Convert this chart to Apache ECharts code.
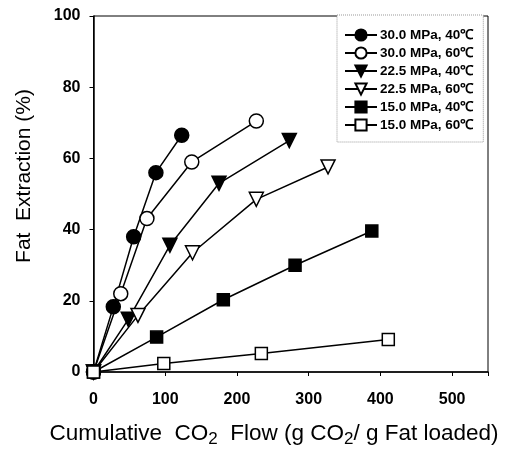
<!DOCTYPE html>
<html>
<head>
<meta charset="utf-8">
<script src="https://cdn.jsdelivr.net/npm/echarts@6/dist/echarts.min.js"></script>
<style>
	html, body { margin: 0; padding: 0; background: #fff; }
	#chart { width: 508px; height: 450px; }
</style>
</head>
<body>
<div id="chart"></div>
<script>
// series names as in the legend
var seriesNames = ['30.0 MPa, 40℃', '30.0 MPa, 60℃', '22.5 MPa, 40℃', '22.5 MPa, 60℃', '15.0 MPa, 40℃', '15.0 MPa, 60℃'];

// cumulative CO2 flow (x) and fat extraction % (y)
var flow30_40 = [0, 27.6, 56, 87, 123];
var fat30_40 = [0, 18.3, 38, 56, 66.5];
var flow30_60 = [0, 38, 74.5, 137, 227];
var fat30_60 = [0, 22, 43.1, 59, 70.5];
var flow22_40 = [0, 48.5, 106.5, 175, 273];
var fat22_40 = [0, 14.8, 35.6, 53, 65];
var flow22_60 = [0, 62, 138, 227, 327];
var fat22_60 = [0, 15.9, 33.5, 48.5, 57.6];
var flow15_40 = [0, 88, 181, 281, 388];
var fat15_40 = [0, 9.8, 20.3, 30, 39.6];
var flow15_60 = [0, 98, 234, 411];
var fat15_60 = [0, 2.4, 5.2, 9.1];

var xTicks = [0, 100, 200, 300, 400, 500];
var yTicks = [0, 20, 40, 60, 80, 100];

function pairs(xs, ys) {
	var out = [];
	for (var i = 0; i < xs.length; i++) {
		out.push([xs[i], ys[i]]);
	}
	return out;
}

var seriesData = [
	pairs(flow30_40, fat30_40),
	pairs(flow30_60, fat30_60),
	pairs(flow22_40, fat22_40),
	pairs(flow22_60, fat22_60),
	pairs(flow15_40, fat15_40),
	pairs(flow15_60, fat15_60)
];
var symbols = ['circle', 'circle', 'triangle', 'triangle', 'rect', 'rect'];
var filled = [true, false, true, false, true, false];
var sizes = [14, 14, 14, 14, 12, 12];

var series = [];
for (var i = 0; i < seriesData.length; i++) {
	series.push({
		name: seriesNames[i],
		type: 'line',
		data: seriesData[i],
		symbol: symbols[i],
		symbolSize: sizes[i],
		symbolRotate: symbols[i] == 'triangle' ? 180 : 0,
		showAllSymbol: true,
		lineStyle: { color: '#000', width: 1.5 },
		itemStyle: {
			color: filled[i] ? '#000' : '#fff',
			borderColor: '#000',
			borderWidth: 1.5
		},
		emphasis: { disabled: true },
		z: 2 + i
	});
}

var chart = echarts.init(document.getElementById('chart'), null, { renderer: 'canvas' });
var axisFont = { fontFamily: 'Liberation Sans, Arial, sans-serif', fontSize: 16, fontWeight: 'bold', color: '#000' };

var option = {
	animation: false,
	backgroundColor: '#fff',
	grid: { left: 93.5, right: 20, top: 16, bottom: 78, show: true, borderColor: '#000', borderWidth: 1 },
	xAxis: {
		type: 'value',
		min: 0,
		max: 550,
		interval: 100,
		splitLine: { show: false },
		axisLine: { onZero: false, lineStyle: { color: '#000', width: 1.5 } },
		axisTick: { inside: false, length: 4, lineStyle: { color: '#000' } },
		axisLabel: Object.assign({ margin: 20, formatter: function(v) { return xTicks.indexOf(v) >= 0 ? v : ''; } }, axisFont)
	},
	yAxis: {
		type: 'value',
		min: 0,
		max: 100,
		interval: 20,
		splitLine: { show: false },
		axisLine: { onZero: false, lineStyle: { color: '#000', width: 1.5 } },
		axisTick: { inside: false, length: 4, lineStyle: { color: '#000' } },
		axisLabel: Object.assign({ margin: 13, formatter: function(v) { return yTicks.indexOf(v) >= 0 ? v : ''; } }, axisFont)
	},
	legend: {
		orient: 'vertical',
		left: 337,
		top: 15,
		padding: [13, 10, 10, 7],
		itemGap: 4,
		itemWidth: 32,
		itemHeight: 14,
		borderColor: '#999',
		borderWidth: 1,
		borderType: 'dotted',
		backgroundColor: '#fff',
		data: seriesNames,
		textStyle: { fontFamily: 'Liberation Sans, Arial, sans-serif', fontSize: 13.5, fontWeight: 'bold', color: '#000', padding: [0, 0, 0, -2] }
	},
	graphic: [
		{
			type: 'text',
			x: 24,
			y: 176,
			rotation: Math.PI / 2,
			style: {
				text: 'Fat  Extraction (%)',
				font: '21px "Liberation Sans", Arial, sans-serif',
				fill: '#000',
				textAlign: 'center',
				textVerticalAlign: 'middle'
			}
		},
		{
			type: 'text',
			x: 274,
			y: 434,
			style: {
				text: '{t|Cumulative  CO}{s|2}{t|  Flow (g CO}{s|2}{t|/ g Fat loaded)}',
				rich: {
					t: { font: '22.5px "Liberation Sans", Arial, sans-serif', fill: '#000' },
					s: { font: '17px "Liberation Sans", Arial, sans-serif', fill: '#000', padding: [10, 0, 0, 0] }
				},
				textAlign: 'center',
				textVerticalAlign: 'middle'
			}
		}
	],
	series: series
};
chart.setOption(option);
</script>
</body>
</html>
